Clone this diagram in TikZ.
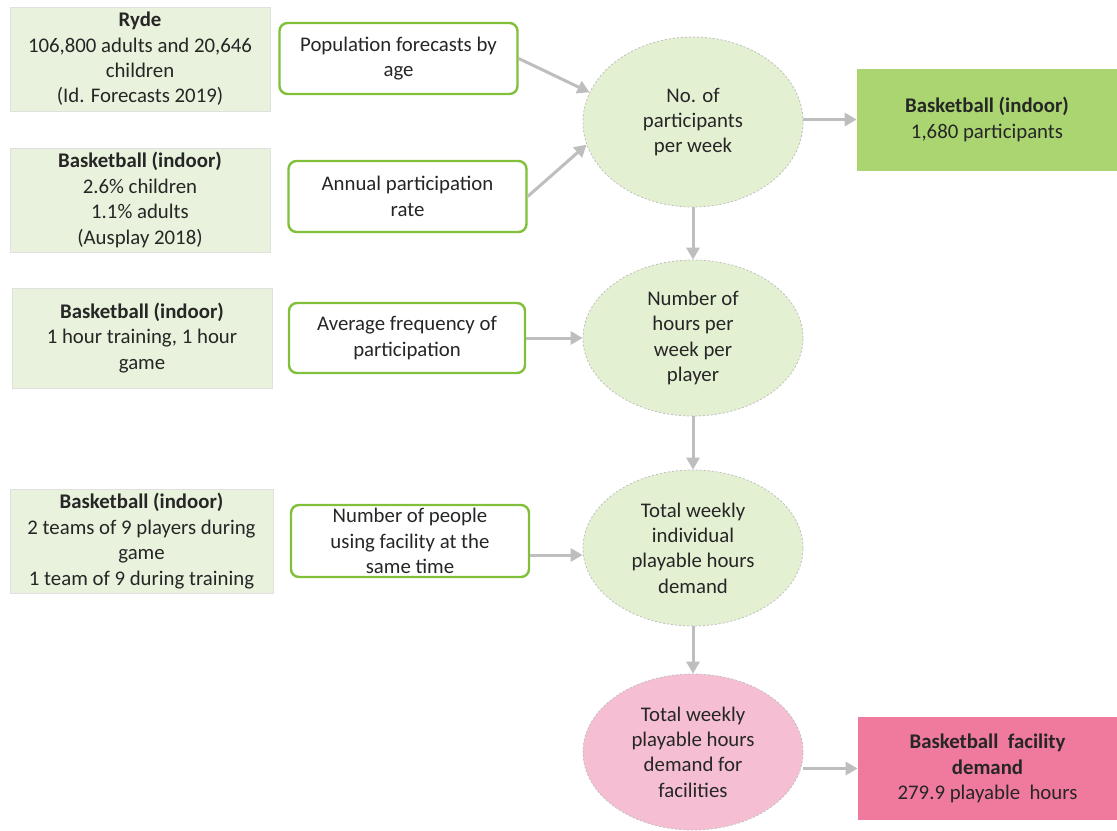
\documentclass[tikz,border=0pt]{standalone}
\usepackage{fontspec}
\setmainfont{Carlito}
\usepackage{tikz}
\usetikzlibrary{arrows.meta,shapes.geometric}
\definecolor{srcgreen}{RGB}{232,242,220}
\definecolor{ovalgreen}{RGB}{228,240,210}
\definecolor{linegreen}{RGB}{128,192,58}
\definecolor{resgreen}{RGB}{170,213,112}
\definecolor{ovalpink}{RGB}{245,190,210}
\definecolor{respink}{RGB}{240,122,158}
\definecolor{flowgrey}{RGB}{190,190,190}

\begin{document}
\begin{tikzpicture}[x=0.5pt,y=-0.5pt,
 every node/.style={font=\fontsize{10.4}{12.7}\selectfont,text=black!85,align=center,inner sep=0pt},
 src/.style={draw=black!12,fill=srcgreen,minimum width=130pt,minimum height=52pt},
 factor/.style={draw=linegreen,line width=1.2pt,fill=white,rounded corners=4pt,
  minimum width=119pt,minimum height=35.5pt},
 calc/.style={ellipse,draw=black!25,dash pattern=on 1pt off 1pt,line width=0.4pt,
  fill=ovalgreen,minimum width=110pt,minimum height=78pt},
 result/.style={fill=resgreen,minimum width=130pt,minimum height=51pt},
 flow/.style={-{Triangle[length=6pt,width=6.5pt]},draw=flowgrey,line width=1.5pt}]
\useasboundingbox[fill=white] (0,0) rectangle (1117,830);

% inputs
\node[src] (ryde) at (140,59) {\textbf{Ryde}\\106,800 adults and 20,646\\children\\(Id. Forecasts 2019)};
\node[src] (rates) at (140,200) {\textbf{Basketball (indoor)}\\2.6\% children\\1.1\% adults\\(Ausplay 2018)};
\node[src,minimum height=50pt] (sessions) at (142,338) {\textbf{Basketball (indoor)}\\1 hour training, 1 hour\\game};
\node[src,minimum width=131.5pt] (teams) at (141.5,541) {\textbf{Basketball (indoor)}\\2 teams of 9 players during\\game\\1 team of 9 during training};

% factors
\node[factor] (pop) at (398.5,58.5) {Population forecasts by\\age};
\node[factor] (annual) at (407.5,196.5) {Annual participation\\rate};
\node[factor,minimum width=118pt,minimum height=35pt] (freq) at (407,338) {Average frequency of\\participation};
\node[factor,minimum height=36pt] (people) at (410,541) {Number of people\\using facility at the\\same time};

% calculation steps
\node[calc,minimum height=85pt] (parts) at (693,122) {No. of\\participants\\per week};
\node[calc] (hours) at (693,338) {Number of\\hours per\\week per\\player};
\node[calc] (indiv) at (693,548) {Total weekly\\individual\\playable hours\\demand};
\node[calc,fill=ovalpink] (facil) at (693,752) {Total weekly\\playable hours\\demand for\\facilities};

% results
\node[result] (partsres) at (987,119.5) {\textbf{Basketball (indoor)}\\1,680 participants};
\node[result,fill=respink,minimum width=129.5pt,minimum height=51.5pt] (demand) at (987.5,768.5)
 {\textbf{Basketball~ facility}\\\textbf{demand}\\279.9 playable~ hours};

\draw[flow] (pop.east) -- (parts.164);
\draw[flow] (annual.east) -- (parts.192);
\draw[flow] (parts.east |- partsres.west) -- (partsres.west);
\draw[flow] (parts.south) -- (hours.north);
\draw[flow] (freq.east) -- (hours.west);
\draw[flow] (hours.south) -- (indiv.north);
\draw[flow] ([yshift=-7pt]people.east) -- ([yshift=-7pt]people.east -| indiv.west);
\draw[flow] (indiv.south) -- (facil.north);
\draw[flow] (facil.east |- demand.west) -- (demand.west);
\end{tikzpicture}
\end{document}
